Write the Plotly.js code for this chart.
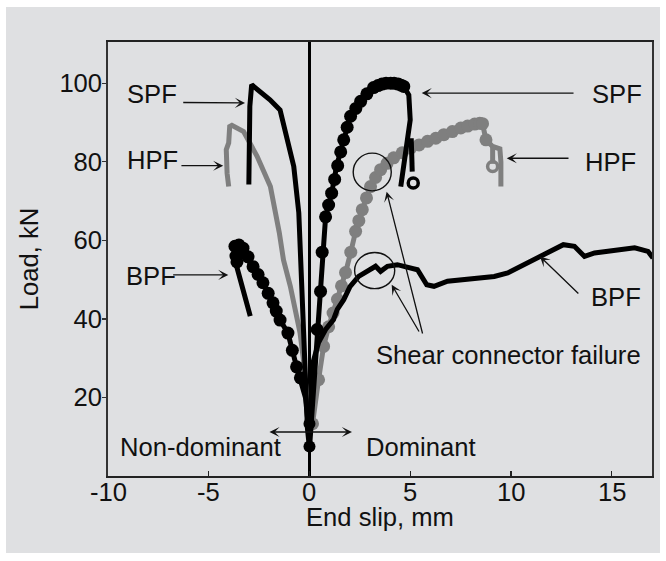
<!DOCTYPE html>
<html>
<head>
<meta charset="utf-8">
<script src="https://cdn.plot.ly/plotly-3.0.1.min.js"></script>
<style>html,body{margin:0;padding:0;background:#fff;}#chart{width:666px;height:561px;}</style>
</head>
<body>
<div id="chart"></div>
<script>
// ---- data (End slip in mm, Load in kN) ----
const hpfLeftX = [0.05, -0.1, -0.3, -0.47, -0.95, -1.29, -1.5, -1.94, -2.6, -3.27, -3.85, -3.96, -4.01, -4.09, -4.13, -4.09, -4.01];
const hpfLeftY = [12, 18, 29.6, 36.5, 48.3, 55, 62, 73.7, 81.4, 87.7, 89.3, 89, 84.8, 83.9, 83.1, 77.1, 73.7];

const hpfRightX = [0.05, 0.15, 0.45, 0.7, 0.95, 1.39, 1.79, 2.05, 2.29, 2.62, 3.03, 3.53, 4.18, 5.02, 5.86, 6.67, 7.51, 8.2, 8.59, 8.7, 8.76, 9.09, 9.45, 9.5, 9.5];
const hpfRightY = [12, 13.3, 24.5, 33, 38, 45, 51.8, 57, 62.3, 67.8, 73.7, 78, 81, 83.5, 85.2, 86.9, 88.6, 89.6, 89.7, 87, 85.6, 83.9, 83.3, 80, 73.7];
const hpfStubX = [9.09, 9.09];
const hpfStubY = [83.9, 79.5];
const hpfMarkX = [0.15, 0.45, 0.7, 0.95, 1.17, 1.39, 1.59, 1.79, 2.05, 2.29, 2.45, 2.62, 2.83, 3.03, 3.28, 3.53, 3.85, 4.18, 4.6, 5.02, 5.44, 5.86, 6.27, 6.67, 7.09, 7.51, 7.85, 8.2, 8.45, 8.59, 8.76];
const hpfMarkY = [13.3, 24.5, 33, 38, 41.5, 45, 48.4, 51.8, 57, 62.3, 65, 67.8, 70.8, 73.7, 76, 78, 79.6, 81, 82.3, 83.5, 84.3, 85.2, 86, 86.9, 87.7, 88.6, 89.1, 89.6, 89.8, 89.7, 85.6];
const hpfEndX = [9.09];
const hpfEndY = [78.8];

const spfLeftX = [0, -0.1, -0.2, -0.3, -0.38, -0.45, -0.53, -0.78, -1.11, -1.46, -1.96, -2.62, -2.87, -2.96, -3.0, -3.01];
const spfLeftY = [7, 12, 25, 40, 50, 60, 67, 78.8, 86.5, 93.2, 95.8, 98.8, 99.6, 94.1, 85, 74.2];

const spfRightX = [0, 0.1, 0.25, 0.38, 0.55, 0.63, 0.8, 1.1, 1.35, 1.7, 2.04, 2.54, 3.18, 3.6, 4.03, 4.4, 4.68, 4.93, 4.95, 5.0, 5.0, 4.53];
const spfRightY = [7, 15, 27, 37.3, 47, 57, 66, 72, 79, 85.6, 91.6, 95.4, 98.9, 99.8, 100, 99.8, 99.2, 97, 93, 92.5, 90.7, 73.7];
const spfStubX = [5.05, 5.1];
const spfStubY = [86, 77.5];
const spfMarkX = [0.38, 0.55, 0.63, 0.8, 0.95, 1.1, 1.25, 1.4, 1.55, 1.7, 1.87, 2.04, 2.3, 2.54, 2.85, 3.18, 3.4, 3.6, 3.8, 4.03, 4.2, 4.4, 4.55, 4.68];
const spfMarkY = [37.3, 47, 57, 66, 69, 72, 75.5, 79, 82.5, 85.6, 88.8, 91.6, 93.6, 95.4, 97.3, 98.9, 99.4, 99.8, 100, 100, 100, 99.8, 99.5, 99.2];
const spfEndX = [5.15];
const spfEndY = [74.6];

const bpfLeftX = [0, -0.2, -0.64, -1.07, -1.46, -1.81, -2.31, -2.8, -3.3, -3.6, -3.75, -3.7, -3.5, -3.35, -2.94];
const bpfLeftY = [10, 20, 27.8, 36.4, 39.7, 44.1, 49.2, 53.3, 57, 58.8, 59, 55, 51, 48.3, 40.7];
const bpfMarkX = [-0.45, -0.64, -0.85, -1.07, -1.46, -1.65, -1.81, -2.05, -2.31, -2.55, -2.8, -3.05, -3.3, -3.5, -3.7, -3.65, -3.45, -3.6];
const bpfMarkY = [25, 27.8, 32, 36.4, 39.7, 42, 44.1, 46.5, 49.2, 51.3, 53.3, 55.8, 58, 58.8, 58.5, 56, 57, 54.5];

const bpfRightX = [0, 0.05, 0.17, 0.45, 0.8, 1.19, 1.38, 1.7, 2.01, 2.44, 3.0, 3.28, 3.53, 3.87, 4.36, 4.86, 5.36, 5.82, 6.18, 6.85, 7.51, 8.34, 9.17, 9.84, 10.83, 11.6, 12.6, 13.15, 13.65, 14.15, 15.14, 16.14, 16.8, 17.05];
const bpfRightY = [10, 15, 28.8, 34, 37.3, 39.8, 42.4, 44.9, 48.2, 50.8, 52.5, 53.4, 52.1, 53.4, 53.8, 53, 52.5, 48.7, 48.3, 49.6, 50, 50.4, 50.8, 51.7, 54.2, 56.3, 58.9, 58.5, 55.9, 56.8, 57.6, 58.1, 57.2, 55.5];

const originMarkX = [0, 0];
const originMarkY = [7.5, 13.3];

const xTicks = [-10, -5, 0, 5, 10, 15];
const yTicks = [20, 40, 60, 80, 100];

// ---- styling ----
const FONT = 'Liberation Sans, Arial, Helvetica, sans-serif';
const FS = 25.6;
const GRAY = '#7f7f7f';

function line(x, y, color, w) {
  return {x: x, y: y, type: 'scatter', mode: 'lines', line: {color: color, width: w}, hoverinfo: 'skip', showlegend: false};
}
function marks(x, y, color, size, symbol, lw) {
  return {x: x, y: y, type: 'scatter', mode: 'markers',
          marker: {color: color, size: size, symbol: symbol || 'circle', line: {color: color, width: lw || 0}},
          hoverinfo: 'skip', showlegend: false};
}

const traces = [
  line(hpfLeftX, hpfLeftY, GRAY, 5),
  line(hpfRightX, hpfRightY, GRAY, 5),
  line(hpfStubX, hpfStubY, GRAY, 5),
  marks(hpfMarkX, hpfMarkY, GRAY, 13),
  marks(hpfEndX, hpfEndY, GRAY, 10, 'circle-open', 3.5),
  line(bpfLeftX, bpfLeftY, '#000', 5),
  marks(bpfMarkX, bpfMarkY, '#000', 13),
  line(bpfRightX, bpfRightY, '#000', 5),
  line(spfLeftX, spfLeftY, '#000', 5),
  line(spfRightX, spfRightY, '#000', 5),
  line(spfStubX, spfStubY, '#000', 5),
  marks(spfMarkX, spfMarkY, '#000', 13),
  marks(spfEndX, spfEndY, '#000', 10, 'circle-open', 3.5),
  marks(originMarkX, originMarkY, '#000', 12)
];

function label(text, x, y) {
  return {x: x, y: y, xref: 'x', yref: 'y', text: text, showarrow: false,
          font: {family: FONT, size: FS, color: '#111'}, xanchor: 'center', yanchor: 'middle'};
}
function arrow(x, y, ax, ay, side) {
  return {x: x, y: y, ax: ax, ay: ay, xref: 'x', yref: 'y', axref: 'x', ayref: 'y',
          text: '', showarrow: true, arrowhead: 3, startarrowhead: 3, arrowside: side || 'end',
          arrowsize: 1.3, arrowwidth: 1.3, arrowcolor: '#111', standoff: 0, startstandoff: 0,
          font: {size: 1}};
}

const annotations = [
  label('SPF', -7.82, 97.2),
  label('HPF', -7.77, 80.4),
  label('BPF', -7.87, 50.9),
  label('SPF', 15.25, 97.2),
  label('HPF', 14.95, 80.0),
  label('BPF', 15.2, 45.6),
  label('Shear connector failure', 9.9, 30.8),
  label('Non-dominant', -5.43, 7.4),
  label('Dominant', 5.53, 7.4),
  arrow(-3.2, 95.0, -6.34, 95.1),
  arrow(-4.28, 79.0, -6.43, 79.0),
  arrow(-4.03, 51.2, -6.84, 51.2),
  arrow(5.57, 97.5, 13.18, 97.5),
  arrow(9.79, 80.9, 12.93, 80.9),
  arrow(11.44, 55.9, 13.42, 46.1),
  arrow(3.83, 72.4, 5.63, 35.9),
  arrow(4.08, 48.7, 5.48, 36.4),
  arrow(2.11, 11.2, -2.06, 11.2, 'end+start'),
  // x axis title
  {x: 0.5, y: -0.095, xref: 'paper', yref: 'paper', text: 'End slip, mm', showarrow: false,
   font: {family: FONT, size: FS, color: '#111'}, xanchor: 'center', yanchor: 'middle'}
].concat(xTicks.map(v => ({
  // x tick labels, placed at the axis tick values
  x: v, y: -0.038, xref: 'x', yref: 'paper', text: String(v), showarrow: false,
  font: {family: FONT, size: FS, color: '#111'}, xanchor: 'center', yanchor: 'middle'
})));

const shapes = [
  {type: 'rect', xref: 'paper', yref: 'paper', x0: -0.1875, x1: 1.0147, y0: -0.1774, y1: 1.0806,
   fillcolor: '#dfe0e2', line: {width: 0}, layer: 'below'},
  {type: 'circle', xref: 'x', yref: 'y', x0: 2.17, x1: 4.06, y0: 72.6, y1: 82.2, line: {color: '#111', width: 1.4}},
  {type: 'circle', xref: 'x', yref: 'y', x0: 2.24, x1: 4.23, y0: 47.7, y1: 56.9, line: {color: '#111', width: 1.4}}
];

const layout = {
  width: 666, height: 561,
  margin: {l: 108, r: 14, t: 42, b: 85, pad: 0},
  paper_bgcolor: '#ffffff',
  plot_bgcolor: 'rgba(0,0,0,0)',
  font: {family: FONT, size: FS, color: '#111'},
  showlegend: false,
  xaxis: {
    range: [-10, 17], tickvals: xTicks, showticklabels: false,
    ticks: 'inside', ticklen: 5, tickwidth: 1.3, tickcolor: '#222',
    showline: true, linecolor: '#222', linewidth: 2, mirror: true,
    showgrid: false, zeroline: true, zerolinecolor: '#000', zerolinewidth: 3.5
  },
  yaxis: {
    range: [0, 110.5], tickvals: yTicks, ticktext: yTicks.map(String),
    ticks: 'outside', ticklen: 4, tickwidth: 1.3, tickcolor: '#333',
    showline: true, linecolor: '#333', linewidth: 1.8, mirror: true,
    showgrid: false, zeroline: false,
    ticklabelstandoff: -5,
    tickfont: {family: FONT, size: FS, color: '#111'},
    title: {text: 'Load, kN', font: {family: FONT, size: FS, color: '#111'}, standoff: 13}
  },
  annotations: annotations,
  shapes: shapes
};

Plotly.newPlot('chart', traces, layout, {displayModeBar: false, staticPlot: true});
</script>
</body>
</html>
